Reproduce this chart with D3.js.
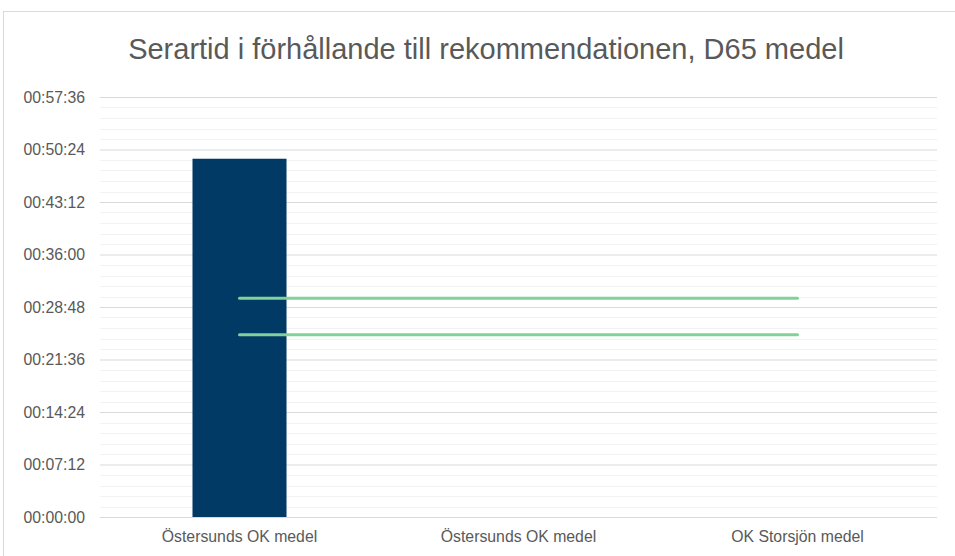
<!DOCTYPE html>
<html><head><meta charset="utf-8">
<script src="https://cdn.jsdelivr.net/npm/d3@7"></script>
<style>body{margin:0;background:#fff}svg{display:block}text{font-family:"Liberation Sans",Arial,sans-serif}</style>
</head><body>
<svg id="c" width="955" height="556"></svg>
<script>
const title = "Serartid i förhållande till rekommendationen, D65 medel";
const categories = ["Östersunds OK medel 1", "Östersunds OK medel 2", "OK Storsjön medel"];
const categoryLabels = ["Östersunds OK medel", "Östersunds OK medel", "OK Storsjön medel"];
// seconds
const barValues = [2948, null, null];
const recUpper = [1800, 1800, 1800];
const recLower = [1500, 1500, 1500];
const tickValues = [0, 432, 864, 1296, 1728, 2160, 2592, 3024, 3456];

const svg = d3.select("#c");
const W = 955, H = 556;
const m = {left: 100, right: 18, top: 97, bottom: 39};
const FONT = '"Liberation Sans",Arial,sans-serif';

svg.append("rect").attr("x", 3.5).attr("y", 11.5).attr("width", 1000).attr("height", 600)
  .attr("fill", "#fff").attr("stroke", "#d9d9d9");

const x = d3.scaleBand().domain(categories).range([m.left, W - m.right]).paddingInner(0.663).paddingOuter(0.3315);
const y = d3.scaleLinear().domain([0, 3456]).range([H - m.bottom, m.top]);

const fmt = s => {
  const h = Math.floor(s / 3600), mm = Math.floor((s % 3600) / 60), ss = s % 60;
  return [h, mm, ss].map(v => String(v).padStart(2, "0")).join(":");
};

// minor grid
const minor = d3.range(0, 3456 + 1, 86.4).filter((v, i) => i % 5 !== 0);
svg.append("g").selectAll("line").data(minor).join("line")
  .attr("x1", m.left).attr("x2", W - m.right)
  .attr("y1", d => Math.round(y(d)) + 0.5).attr("y2", d => Math.round(y(d)) + 0.5)
  .attr("stroke", "#f2f2f2").attr("stroke-width", 1);

// major grid + y axis
const yAxis = d3.axisLeft(y).tickValues(tickValues).tickFormat(fmt).tickSize(-(W - m.left - m.right)).tickPadding(15);
const gy = svg.append("g").attr("transform", `translate(${m.left},0)`).call(yAxis);
gy.select(".domain").remove();
gy.selectAll(".tick line").attr("stroke", "#d9d9d9");
gy.selectAll(".tick text").attr("fill", "#595959").attr("font-size", 15.8).attr("font-family", FONT);

// bars
svg.append("g").selectAll("rect").data(categories.map((c, i) => ({c, v: barValues[i]})).filter(d => d.v != null))
  .join("rect")
  .attr("x", d => x(d.c)).attr("width", x.bandwidth())
  .attr("y", d => y(d.v)).attr("height", d => y(0) - y(d.v))
  .attr("fill", "#023a66");

// recommendation lines
const line = d3.line().x((d, i) => x(categories[i]) + x.bandwidth() / 2).y(d => y(d));
[recUpper, recLower].forEach(arr => {
  svg.append("path").datum(arr).attr("d", line).attr("fill", "none")
    .attr("stroke", "#82d19a").attr("stroke-width", 3).attr("stroke-linecap", "round");
});

// x axis
const xAxis = d3.axisBottom(x).tickSize(0).tickPadding(13.5).tickFormat((d, i) => categoryLabels[i]);
const gx = svg.append("g").attr("transform", `translate(0,${y(0)})`).call(xAxis);
gx.select(".domain").attr("stroke", "#d9d9d9").attr("d", `M${m.left},0.5H${W - m.right}`);
gx.selectAll(".tick text").attr("fill", "#595959").attr("font-size", 15.8).attr("font-family", FONT);

svg.append("text").attr("x", 486).attr("y", 59).attr("text-anchor", "middle")
  .attr("font-size", 29).attr("fill", "#595959").text(title);
</script>
</body></html>
